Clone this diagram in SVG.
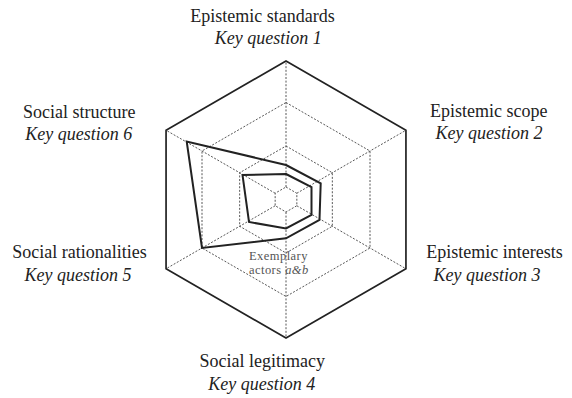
<svg xmlns="http://www.w3.org/2000/svg" width="572" height="398" viewBox="0 0 572 398">
<style>
.grid{fill:none;stroke:#444;stroke-width:0.9;stroke-dasharray:2 1.6}
.outer{fill:none;stroke:#222;stroke-width:1.7;stroke-linejoin:miter}
.data{fill:none;stroke:#222;stroke-width:2;stroke-linejoin:miter}
.lbl{font-family:"Liberation Serif","Times New Roman",serif;font-size:18px;fill:#222;text-anchor:middle}
.kq{font-style:italic}
.mid{font-family:"Liberation Serif","Times New Roman",serif;font-size:12.5px;fill:#555;letter-spacing:0.45px}
</style>
<rect width="572" height="398" fill="#fff"/>
<g id="grid">
<polygon class="grid" points="286,102.5 370,151 370,248 286,296.5 202,248 202,151"/>
<polygon class="grid" points="286,146 332.33,172.75 332.33,226.25 286,253 239.67,226.25 239.67,172.75"/>
<polygon class="grid" points="286,187 296.83,193.25 296.83,205.75 286,212 275.17,205.75 275.17,193.25"/>
</g>
<g id="connectors">
<line class="grid" x1="286" y1="187" x2="286" y2="61"/>
<line class="grid" x1="296.83" y1="193.25" x2="405.94" y2="130.25"/>
<line class="grid" x1="296.83" y1="205.75" x2="405.94" y2="268.75"/>
<line class="grid" x1="286" y1="212" x2="286" y2="338"/>
<line class="grid" x1="275.17" y1="205.75" x2="166.06" y2="268.75"/>
<line class="grid" x1="275.17" y1="193.25" x2="166.06" y2="130.25"/>
</g>
<g id="frame">
<polygon class="outer" points="286,61 405.94,130.25 405.94,268.75 286,338 166.06,268.75 166.06,130.25"/>
</g>
<g id="actor-a">
<polygon class="data" points="286,165 320.7,183.3 319.5,220 286,238.3 202,248 186.7,141.5"/>
</g>
<g id="actor-b">
<polygon class="data" points="286,174 311.5,187 311.5,215 286,228.5 249,222 242.5,175"/>
</g>
<g id="center-label">
<text class="mid" x="249" y="260">Exemplary</text>
<text class="mid" x="249" y="274">actors <tspan font-style="italic">a&amp;b</tspan></text>
</g>
<g id="q1">
<text class="lbl" x="262.5" y="21.5">Epistemic standards</text>
<text class="lbl kq" x="268.3" y="44">Key question 1</text>
</g>
<g id="q2">
<text class="lbl" x="488.8" y="116.5">Epistemic scope</text>
<text class="lbl kq" x="489" y="139">Key question 2</text>
</g>
<g id="q3">
<text class="lbl" x="494.5" y="258">Epistemic interests</text>
<text class="lbl kq" x="487" y="280.5">Key question 3</text>
</g>
<g id="q4">
<text class="lbl" x="262.2" y="367">Social legitimacy</text>
<text class="lbl kq" x="261.8" y="389.5">Key question 4</text>
</g>
<g id="q5">
<text class="lbl" x="79.5" y="258">Social rationalities</text>
<text class="lbl kq" x="78" y="280.5">Key question 5</text>
</g>
<g id="q6">
<text class="lbl" x="79.2" y="117.5">Social structure</text>
<text class="lbl kq" x="78.8" y="140">Key question 6</text>
</g>
</svg>
